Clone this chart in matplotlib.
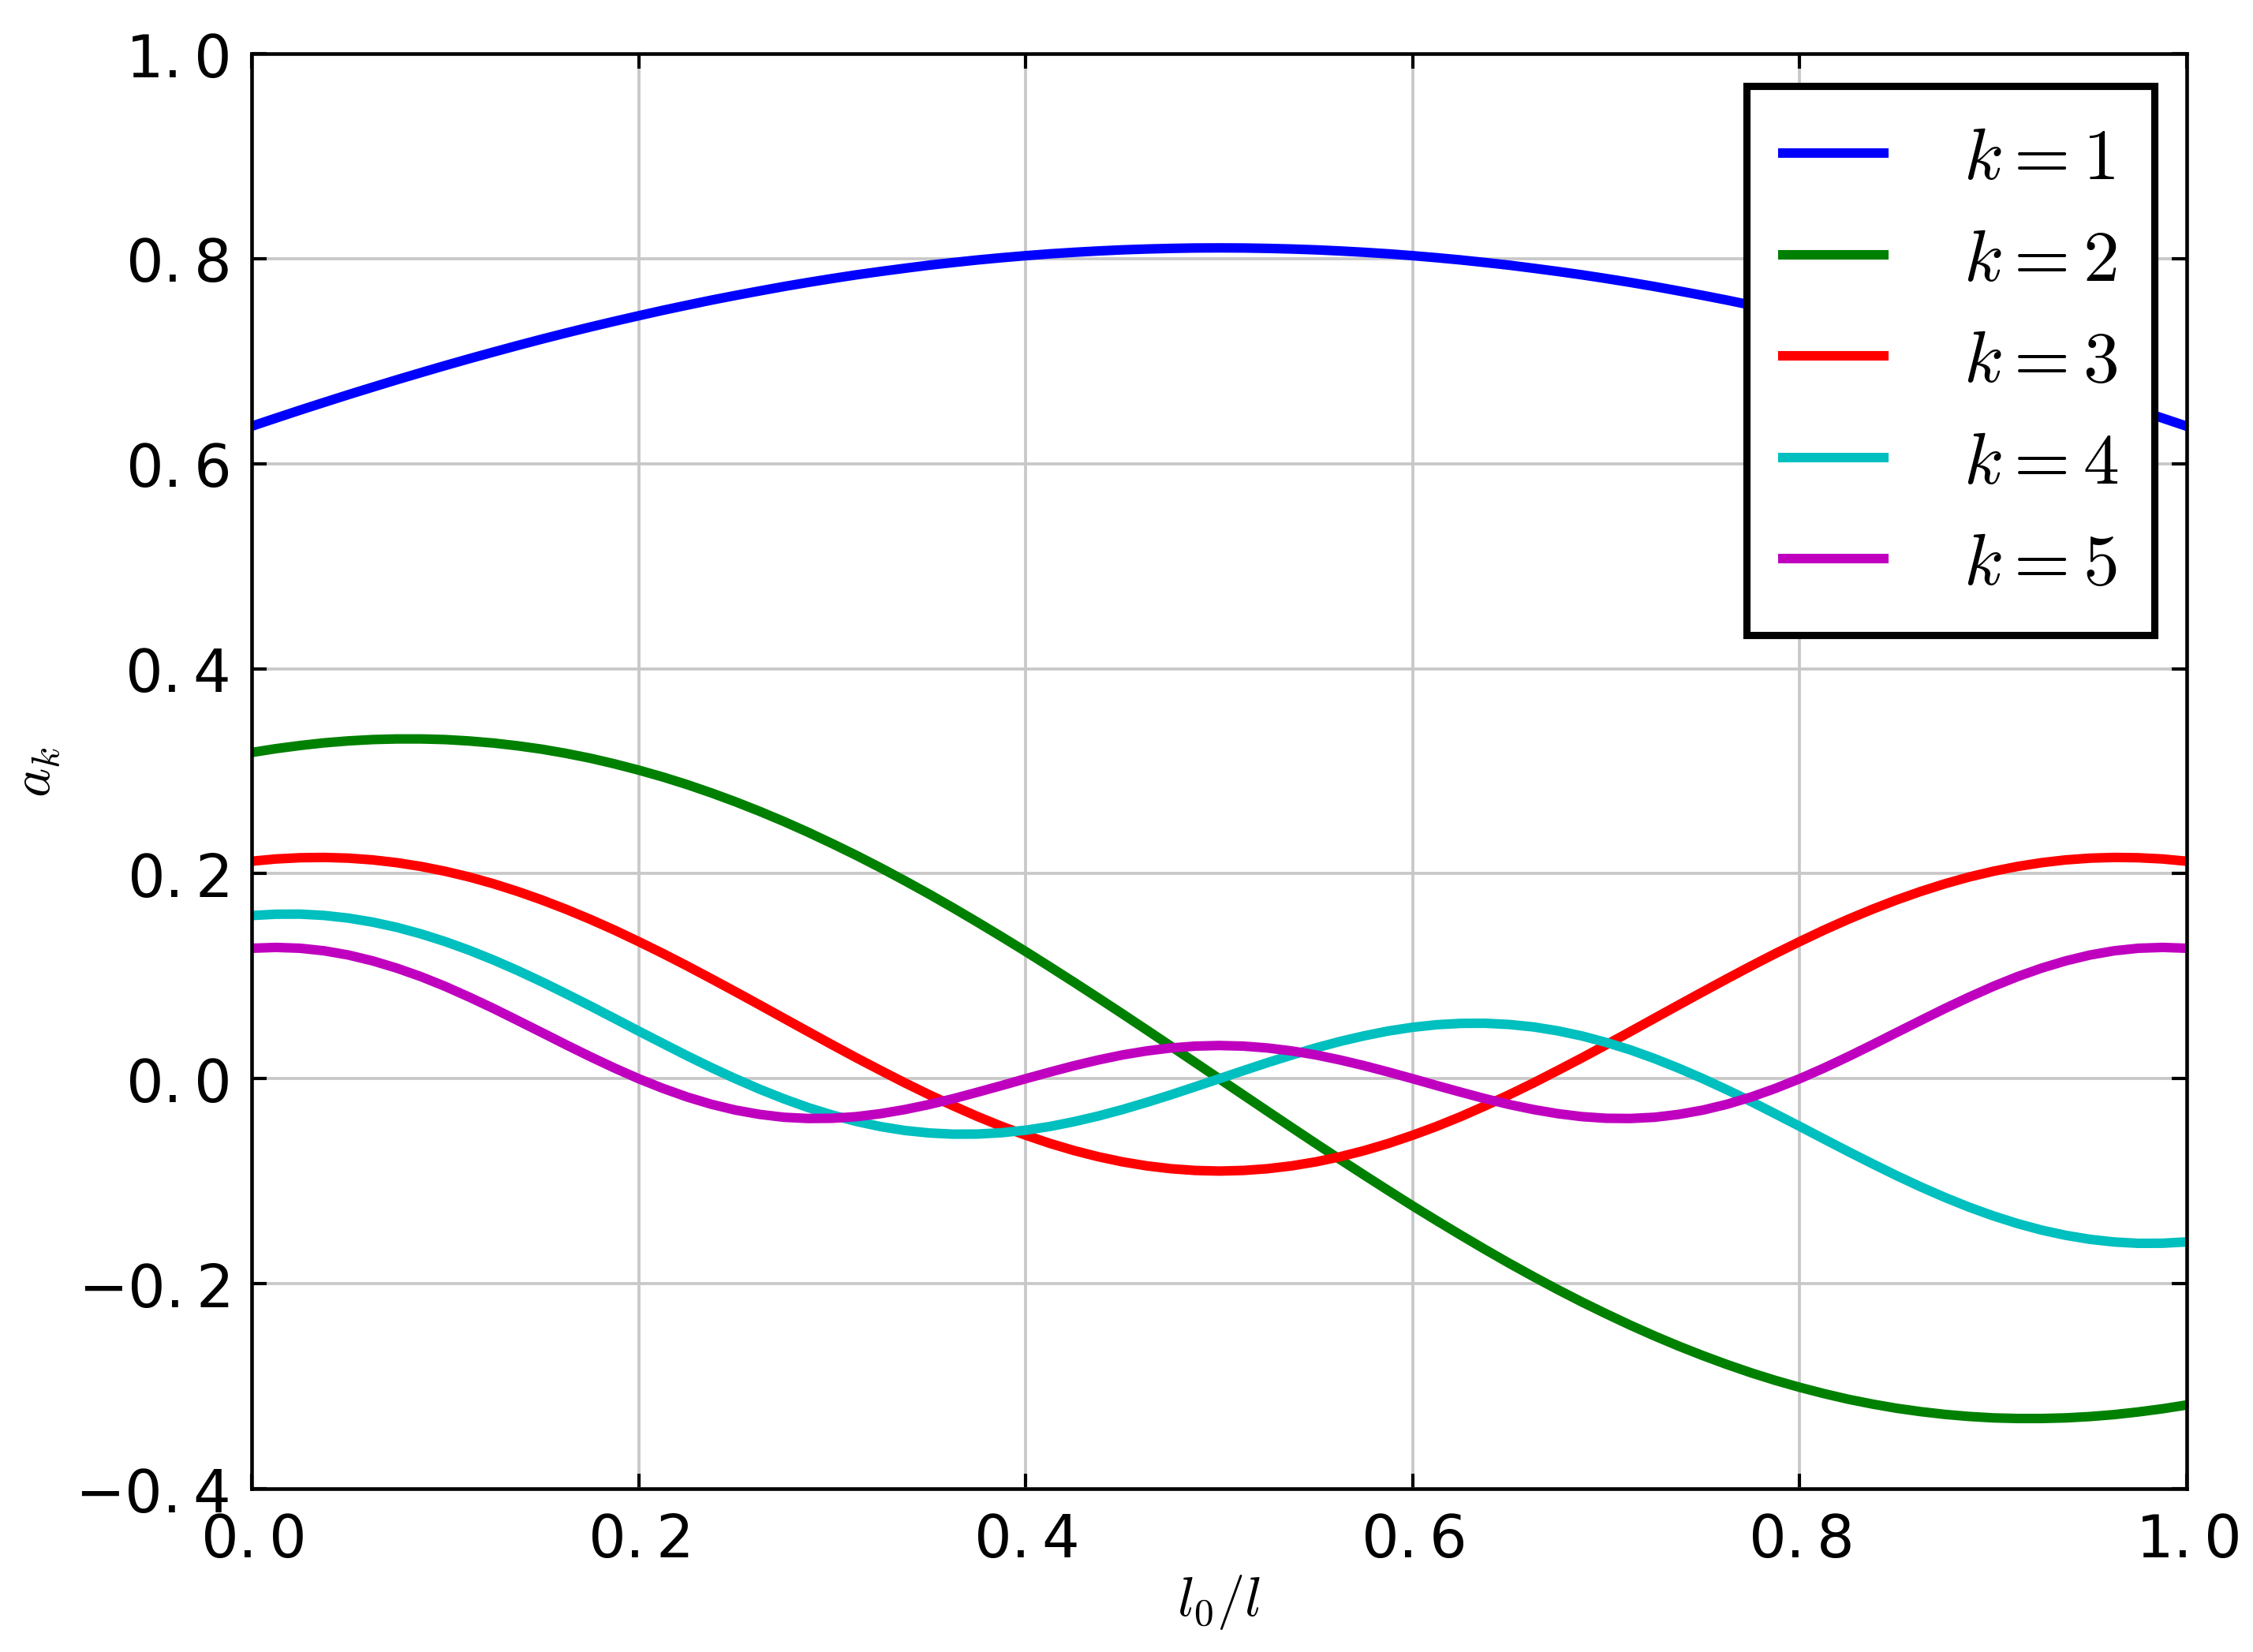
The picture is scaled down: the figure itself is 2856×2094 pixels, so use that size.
import matplotlib
matplotlib.use("Agg")
import matplotlib.pyplot as plt
from matplotlib.ticker import FuncFormatter, MultipleLocator

# l0/l sample positions
l_ratio = [0.0, 0.0125, 0.025, 0.0375, 0.05, 0.0625, 0.075, 0.0875, 0.1, 0.1125,
           0.125, 0.1375, 0.15, 0.1625, 0.175, 0.1875, 0.2, 0.2125, 0.225, 0.2375,
           0.25, 0.2625, 0.275, 0.2875, 0.3, 0.3125, 0.325, 0.3375, 0.35, 0.3625,
           0.375, 0.3875, 0.4, 0.4125, 0.425, 0.4375, 0.45, 0.4625, 0.475, 0.4875,
           0.5, 0.5125, 0.525, 0.5375, 0.55, 0.5625, 0.575, 0.5875, 0.6, 0.6125,
           0.625, 0.6375, 0.65, 0.6625, 0.675, 0.6875, 0.7, 0.7125, 0.725, 0.7375,
           0.75, 0.7625, 0.775, 0.7875, 0.8, 0.8125, 0.825, 0.8375, 0.85, 0.8625,
           0.875, 0.8875, 0.9, 0.9125, 0.925, 0.9375, 0.95, 0.9625, 0.975, 0.9875, 1.0]

# coefficients a_k
a1 = [0.6366, 0.6445, 0.6523, 0.6599, 0.6674, 0.6747, 0.6819, 0.6889, 0.6958, 0.7025,
      0.7090, 0.7154, 0.7216, 0.7276, 0.7334, 0.7390, 0.7444, 0.7497, 0.7547, 0.7596,
      0.7642, 0.7686, 0.7729, 0.7769, 0.7807, 0.7843, 0.7876, 0.7907, 0.7937, 0.7963,
      0.7988, 0.8010, 0.8030, 0.8048, 0.8063, 0.8076, 0.8087, 0.8095, 0.8101, 0.8105,
      0.8106,
      0.8105, 0.8101, 0.8095, 0.8087, 0.8076, 0.8063, 0.8048, 0.8030, 0.8010, 0.7988,
      0.7963, 0.7937, 0.7907, 0.7876, 0.7843, 0.7807, 0.7769, 0.7729, 0.7686, 0.7642,
      0.7596, 0.7547, 0.7497, 0.7444, 0.7390, 0.7334, 0.7276, 0.7216, 0.7154, 0.7090,
      0.7025, 0.6958, 0.6889, 0.6819, 0.6747, 0.6674, 0.6599, 0.6523, 0.6445, 0.6366]
a2 = [0.3183, 0.3220, 0.3251, 0.3277, 0.3296, 0.3309, 0.3315, 0.3315, 0.3309, 0.3295,
      0.3275, 0.3248, 0.3215, 0.3174, 0.3127, 0.3072, 0.3011, 0.2944, 0.2870, 0.2789,
      0.2702, 0.2609, 0.2510, 0.2405, 0.2294, 0.2179, 0.2058, 0.1932, 0.1802, 0.1667,
      0.1528, 0.1386, 0.1241, 0.1092, 0.0941, 0.0788, 0.0633, 0.0476, 0.0318, 0.0159,
      0.0000,
      -0.0159, -0.0318, -0.0476, -0.0633, -0.0788, -0.0941, -0.1092, -0.1241, -0.1386, -0.1528,
      -0.1667, -0.1802, -0.1932, -0.2058, -0.2179, -0.2294, -0.2405, -0.2510, -0.2609, -0.2702,
      -0.2789, -0.2870, -0.2944, -0.3011, -0.3072, -0.3127, -0.3174, -0.3215, -0.3248, -0.3275,
      -0.3295, -0.3309, -0.3315, -0.3315, -0.3309, -0.3296, -0.3277, -0.3251, -0.3220, -0.3183]
a3 = [0.2122, 0.2144, 0.2156, 0.2159, 0.2152, 0.2135, 0.2108, 0.2071, 0.2024, 0.1968,
      0.1902, 0.1827, 0.1744, 0.1653, 0.1555, 0.1450, 0.1338, 0.1222, 0.1101, 0.0976,
      0.0849, 0.0720, 0.0590, 0.0460, 0.0331, 0.0204, 0.0081, -0.0040, -0.0155, -0.0264,
      -0.0368, -0.0464, -0.0551, -0.0631, -0.0701, -0.0761, -0.0811, -0.0850, -0.0878, -0.0895,
      -0.0901,
      -0.0895, -0.0878, -0.0850, -0.0811, -0.0761, -0.0701, -0.0631, -0.0551, -0.0464, -0.0368,
      -0.0264, -0.0155, -0.0040, 0.0081, 0.0204, 0.0331, 0.0460, 0.0590, 0.0720, 0.0849,
      0.0976, 0.1101, 0.1222, 0.1338, 0.1450, 0.1555, 0.1653, 0.1744, 0.1827, 0.1902,
      0.1968, 0.2024, 0.2071, 0.2108, 0.2135, 0.2152, 0.2159, 0.2156, 0.2144, 0.2122]
a4 = [0.1592, 0.1605, 0.1606, 0.1593, 0.1567, 0.1528, 0.1477, 0.1413, 0.1338, 0.1253,
      0.1158, 0.1055, 0.0945, 0.0829, 0.0710, 0.0588, 0.0465, 0.0344, 0.0224, 0.0109,
      0.0000, -0.0102, -0.0196, -0.0281, -0.0354, -0.0417, -0.0467, -0.0505, -0.0529, -0.0541,
      -0.0540, -0.0527, -0.0502, -0.0466, -0.0419, -0.0364, -0.0301, -0.0231, -0.0157, -0.0079,
      0.0000,
      0.0079, 0.0157, 0.0231, 0.0301, 0.0364, 0.0419, 0.0466, 0.0502, 0.0527, 0.0540,
      0.0541, 0.0529, 0.0505, 0.0467, 0.0417, 0.0354, 0.0281, 0.0196, 0.0102, 0.0000,
      -0.0109, -0.0224, -0.0344, -0.0465, -0.0588, -0.0710, -0.0829, -0.0945, -0.1055, -0.1158,
      -0.1253, -0.1338, -0.1413, -0.1477, -0.1528, -0.1567, -0.1593, -0.1606, -0.1605, -0.1592]
a5 = [0.1273, 0.1281, 0.1273, 0.1248, 0.1207, 0.1150, 0.1079, 0.0996, 0.0901, 0.0796,
      0.0685, 0.0568, 0.0450, 0.0331, 0.0215, 0.0104, 0.0000, -0.0094, -0.0178, -0.0249,
      -0.0306, -0.0348, -0.0376, -0.0388, -0.0386, -0.0370, -0.0341, -0.0301, -0.0252, -0.0195,
      -0.0132, -0.0067, 0.0000, 0.0065, 0.0127, 0.0183, 0.0232, 0.0271, 0.0300, 0.0318,
      0.0324,
      0.0318, 0.0300, 0.0271, 0.0232, 0.0183, 0.0127, 0.0065, 0.0000, -0.0067, -0.0132,
      -0.0195, -0.0252, -0.0301, -0.0341, -0.0370, -0.0386, -0.0388, -0.0376, -0.0348, -0.0306,
      -0.0249, -0.0178, -0.0094, 0.0000, 0.0104, 0.0215, 0.0331, 0.0450, 0.0568, 0.0685,
      0.0796, 0.0901, 0.0996, 0.1079, 0.1150, 0.1207, 0.1248, 0.1273, 0.1281, 0.1273]

series = [a1, a2, a3, a4, a5]
labels = [r"$k=1$", r"$k=2$", r"$k=3$", r"$k=4$", r"$k=5$"]
colors = ["#0000ff", "#008000", "#ff0000", "#00bfbf", "#bf00bf"]

fig = plt.figure(figsize=(9.52, 6.9833), dpi=300)
fig.subplots_adjust(left=0.1117, right=0.9706, bottom=0.0988, top=0.967)
ax = fig.add_subplot(111)

for vals, lab, col in zip(series, labels, colors):
    ax.plot(l_ratio, vals, color=col, lw=2.9, label=lab)

ax.set_xlim(0, 1)
ax.set_ylim(-0.4, 1.0)
ax.xaxis.set_major_locator(MultipleLocator(0.2))
ax.yaxis.set_major_locator(MultipleLocator(0.2))

# old-style mathtext tick labels: "{}" after the dot keeps mathtext's punctuation gap
fmt = FuncFormatter(lambda v, p: ("$%.1f$" % v).replace(".", ".{}"))
ax.xaxis.set_major_formatter(fmt)
ax.yaxis.set_major_formatter(fmt)

ax.tick_params(direction="in", length=4.5, width=1.0, top=True, right=True,
               labelsize=18, pad=7)
for sp in ax.spines.values():
    sp.set_linewidth(1.1)

ax.grid(True, color="#c8c8c8", lw=0.9)
ax.set_axisbelow(True)

ax.set_xlabel(r"$l_0/l$", fontsize=17, math_fontfamily="cm", labelpad=1)
ax.set_ylabel(r"$a_k$", fontsize=17, math_fontfamily="cm", labelpad=4)

leg = ax.legend(loc="upper right", fontsize=22, fancybox=False, framealpha=1,
                edgecolor="black", borderaxespad=0.45, borderpad=0.5,
                handlelength=1.4, handletextpad=1.1, labelspacing=0.42)
leg.get_frame().set_linewidth(2.2)
for t in leg.get_texts():
    t.set_math_fontfamily("cm")

fig.savefig("out.png", dpi=300)
